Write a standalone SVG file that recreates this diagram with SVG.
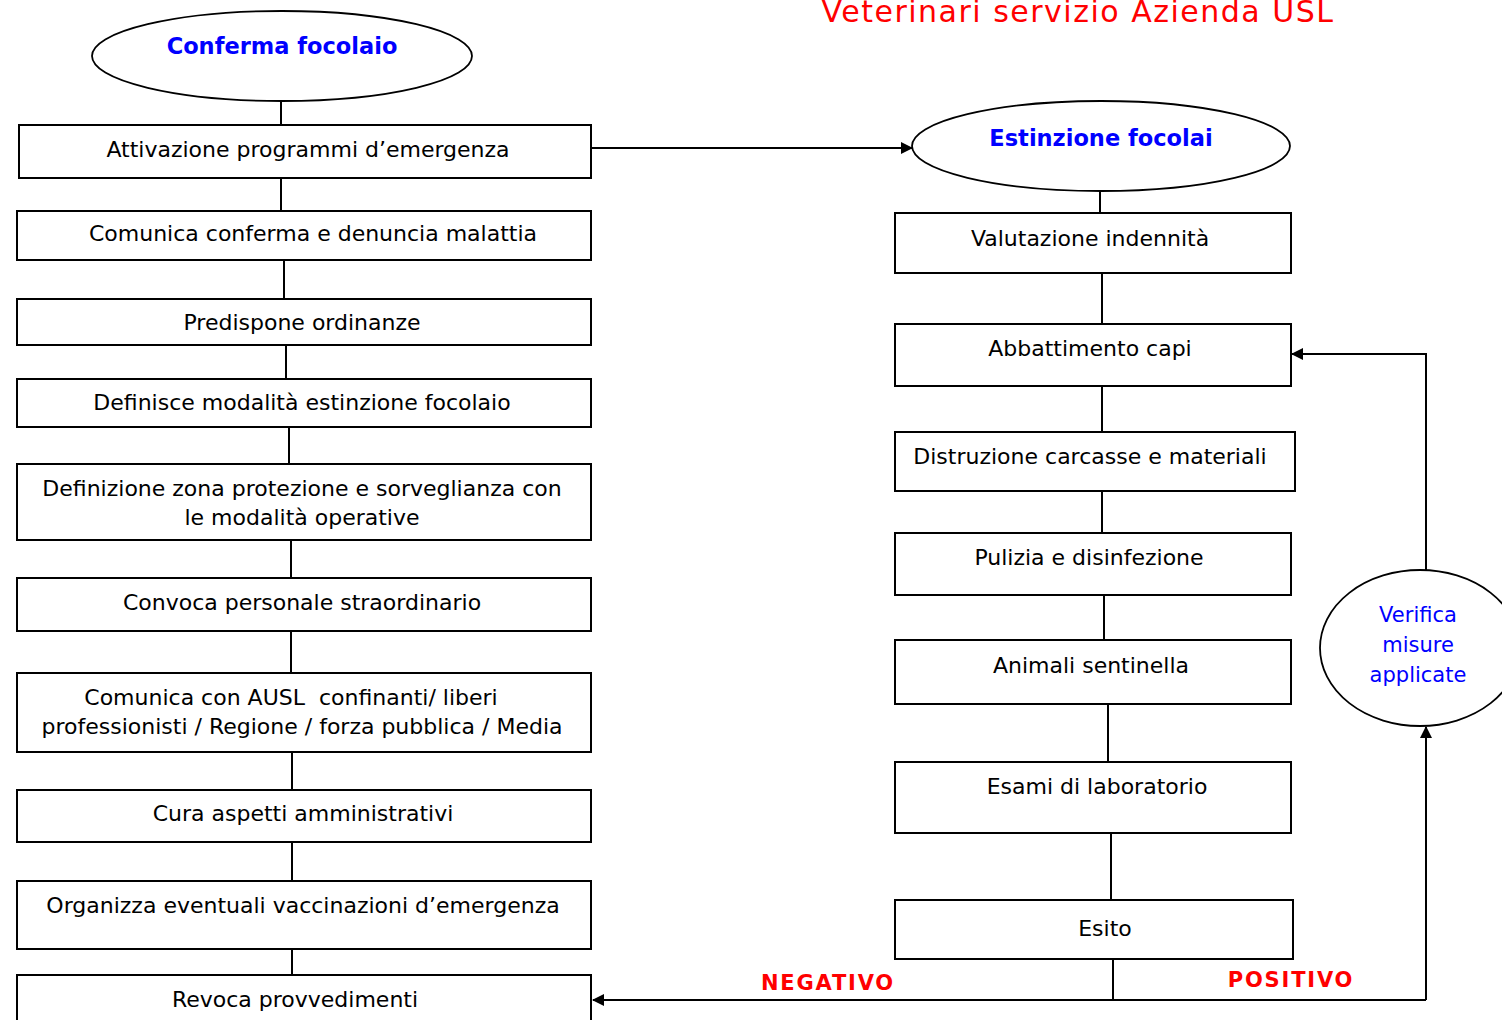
<svg xmlns="http://www.w3.org/2000/svg" width="1502" height="1020" viewBox="0 0 1502 1020">
<defs>
<marker id="ah" viewBox="0 0 12 12" refX="11" refY="6" markerWidth="12" markerHeight="12" markerUnits="userSpaceOnUse" orient="auto">
<path d="M0,0 L12,6 L0,12 Z" fill="#000"/>
</marker>
<style>
.box{fill:#fff;stroke:#000;stroke-width:2}
.ell{fill:#fff;stroke:#000;stroke-width:1.8}
.t{font-family:"DejaVu Sans",Verdana,sans-serif;font-size:22px;fill:#000;text-anchor:middle}
.h{font-family:"DejaVu Sans",Verdana,sans-serif;font-size:22.5px;font-weight:bold;fill:#0000ff;text-anchor:middle}
.v{font-family:"DejaVu Sans",Verdana,sans-serif;font-size:21px;fill:#0000ff;text-anchor:middle}
.r{font-family:"DejaVu Sans",Verdana,sans-serif;font-size:21px;font-weight:bold;fill:#ff0000;text-anchor:middle;letter-spacing:1.8px}
.ln{fill:none;stroke:#000;stroke-width:2}
</style>
</defs>
<rect width="1502" height="1020" fill="#fff"/>
<text x="1078" y="22" font-family="DejaVu Sans,Verdana,sans-serif" font-size="30" letter-spacing="1.5" fill="#ff0000" text-anchor="middle">Veterinari servizio Azienda USL</text>

<g id="connectors">
<line class="ln" x1="281" y1="101" x2="281" y2="125"/>
<line class="ln" x1="281" y1="178" x2="281" y2="211"/>
<line class="ln" x1="284" y1="260" x2="284" y2="299"/>
<line class="ln" x1="286" y1="345" x2="286" y2="379"/>
<line class="ln" x1="289" y1="427" x2="289" y2="464"/>
<line class="ln" x1="291" y1="540" x2="291" y2="578"/>
<line class="ln" x1="291" y1="631" x2="291" y2="673"/>
<line class="ln" x1="292" y1="752" x2="292" y2="790"/>
<line class="ln" x1="292" y1="842" x2="292" y2="881"/>
<line class="ln" x1="292" y1="949" x2="292" y2="975"/>
<line class="ln" x1="591" y1="148" x2="912" y2="148" marker-end="url(#ah)"/>
<line class="ln" x1="1100" y1="191" x2="1100" y2="213"/>
<line class="ln" x1="1102" y1="273" x2="1102" y2="324"/>
<line class="ln" x1="1102" y1="386" x2="1102" y2="432"/>
<line class="ln" x1="1102" y1="491" x2="1102" y2="533"/>
<line class="ln" x1="1104" y1="595" x2="1104" y2="640"/>
<line class="ln" x1="1108" y1="704" x2="1108" y2="762"/>
<line class="ln" x1="1111" y1="833" x2="1111" y2="900"/>
<line class="ln" x1="1113" y1="959" x2="1113" y2="1000"/>
<polyline class="ln" points="1426,1000 1426,727" marker-end="url(#ah)"/>
<line class="ln" x1="1426" y1="1000" x2="593" y2="1000" marker-end="url(#ah)"/>
<polyline class="ln" points="1426,570 1426,354 1292,354" marker-end="url(#ah)"/>
</g>

<g id="n-conferma">
<ellipse class="ell" cx="282" cy="56" rx="190" ry="45"/>
<text class="h" x="282" y="54">Conferma focolaio</text>
</g>
<g id="n-attivazione">
<rect class="box" x="19" y="125" width="572" height="53"/>
<text class="t" x="308" y="157">Attivazione programmi d’emergenza</text>
</g>
<g id="n-comunica1">
<rect class="box" x="17" y="211" width="574" height="49"/>
<text class="t" x="313" y="241">Comunica conferma e denuncia malattia</text>
</g>
<g id="n-predispone">
<rect class="box" x="17" y="299" width="574" height="46"/>
<text class="t" x="302" y="330">Predispone ordinanze</text>
</g>
<g id="n-definisce">
<rect class="box" x="17" y="379" width="574" height="48"/>
<text class="t" x="302" y="410">Definisce modalità estinzione focolaio</text>
</g>
<g id="n-definizione">
<rect class="box" x="17" y="464" width="574" height="76"/>
<text class="t" x="302" y="496">Definizione zona protezione e sorveglianza con</text>
<text class="t" x="302" y="525">le modalità operative</text>
</g>
<g id="n-convoca">
<rect class="box" x="17" y="578" width="574" height="53"/>
<text class="t" x="302" y="610">Convoca personale straordinario</text>
</g>
<g id="n-comunica2">
<rect class="box" x="17" y="673" width="574" height="79"/>
<text class="t" x="291" y="705" style="white-space:pre">Comunica con AUSL  confinanti/ liberi</text>
<text class="t" x="302" y="734">professionisti / Regione / forza pubblica / Media</text>
</g>
<g id="n-cura">
<rect class="box" x="17" y="790" width="574" height="52"/>
<text class="t" x="303" y="821">Cura aspetti amministrativi</text>
</g>
<g id="n-organizza">
<rect class="box" x="17" y="881" width="574" height="68"/>
<text class="t" x="303" y="913">Organizza eventuali vaccinazioni d’emergenza</text>
</g>
<g id="n-revoca">
<rect class="box" x="17" y="975" width="574" height="60"/>
<text class="t" x="295" y="1007">Revoca provvedimenti</text>
</g>

<g id="n-estinzione">
<ellipse class="ell" cx="1101" cy="146" rx="189" ry="45"/>
<text class="h" x="1101" y="146">Estinzione focolai</text>
</g>
<g id="n-valutazione">
<rect class="box" x="895" y="213" width="396" height="60"/>
<text class="t" x="1090" y="246">Valutazione indennità</text>
</g>
<g id="n-abbattimento">
<rect class="box" x="895" y="324" width="396" height="62"/>
<text class="t" x="1090" y="356">Abbattimento capi</text>
</g>
<g id="n-distruzione">
<rect class="box" x="895" y="432" width="400" height="59"/>
<text class="t" x="1090" y="464">Distruzione carcasse e materiali</text>
</g>
<g id="n-pulizia">
<rect class="box" x="895" y="533" width="396" height="62"/>
<text class="t" x="1089" y="565">Pulizia e disinfezione</text>
</g>
<g id="n-animali">
<rect class="box" x="895" y="640" width="396" height="64"/>
<text class="t" x="1091" y="673">Animali sentinella</text>
</g>
<g id="n-esami">
<rect class="box" x="895" y="762" width="396" height="71"/>
<text class="t" x="1097" y="794">Esami di laboratorio</text>
</g>
<g id="n-esito">
<rect class="box" x="895" y="900" width="398" height="59"/>
<text class="t" x="1105" y="936">Esito</text>
</g>
<g id="n-verifica">
<ellipse class="ell" cx="1420" cy="648" rx="100" ry="78"/>
<text class="v" x="1418" y="622">Verifica</text>
<text class="v" x="1418" y="652">misure</text>
<text class="v" x="1418" y="682">applicate</text>
</g>
<g id="labels">
<text class="r" x="828" y="990">NEGATIVO</text>
<text class="r" x="1291" y="987">POSITIVO</text>
</g>
</svg>
